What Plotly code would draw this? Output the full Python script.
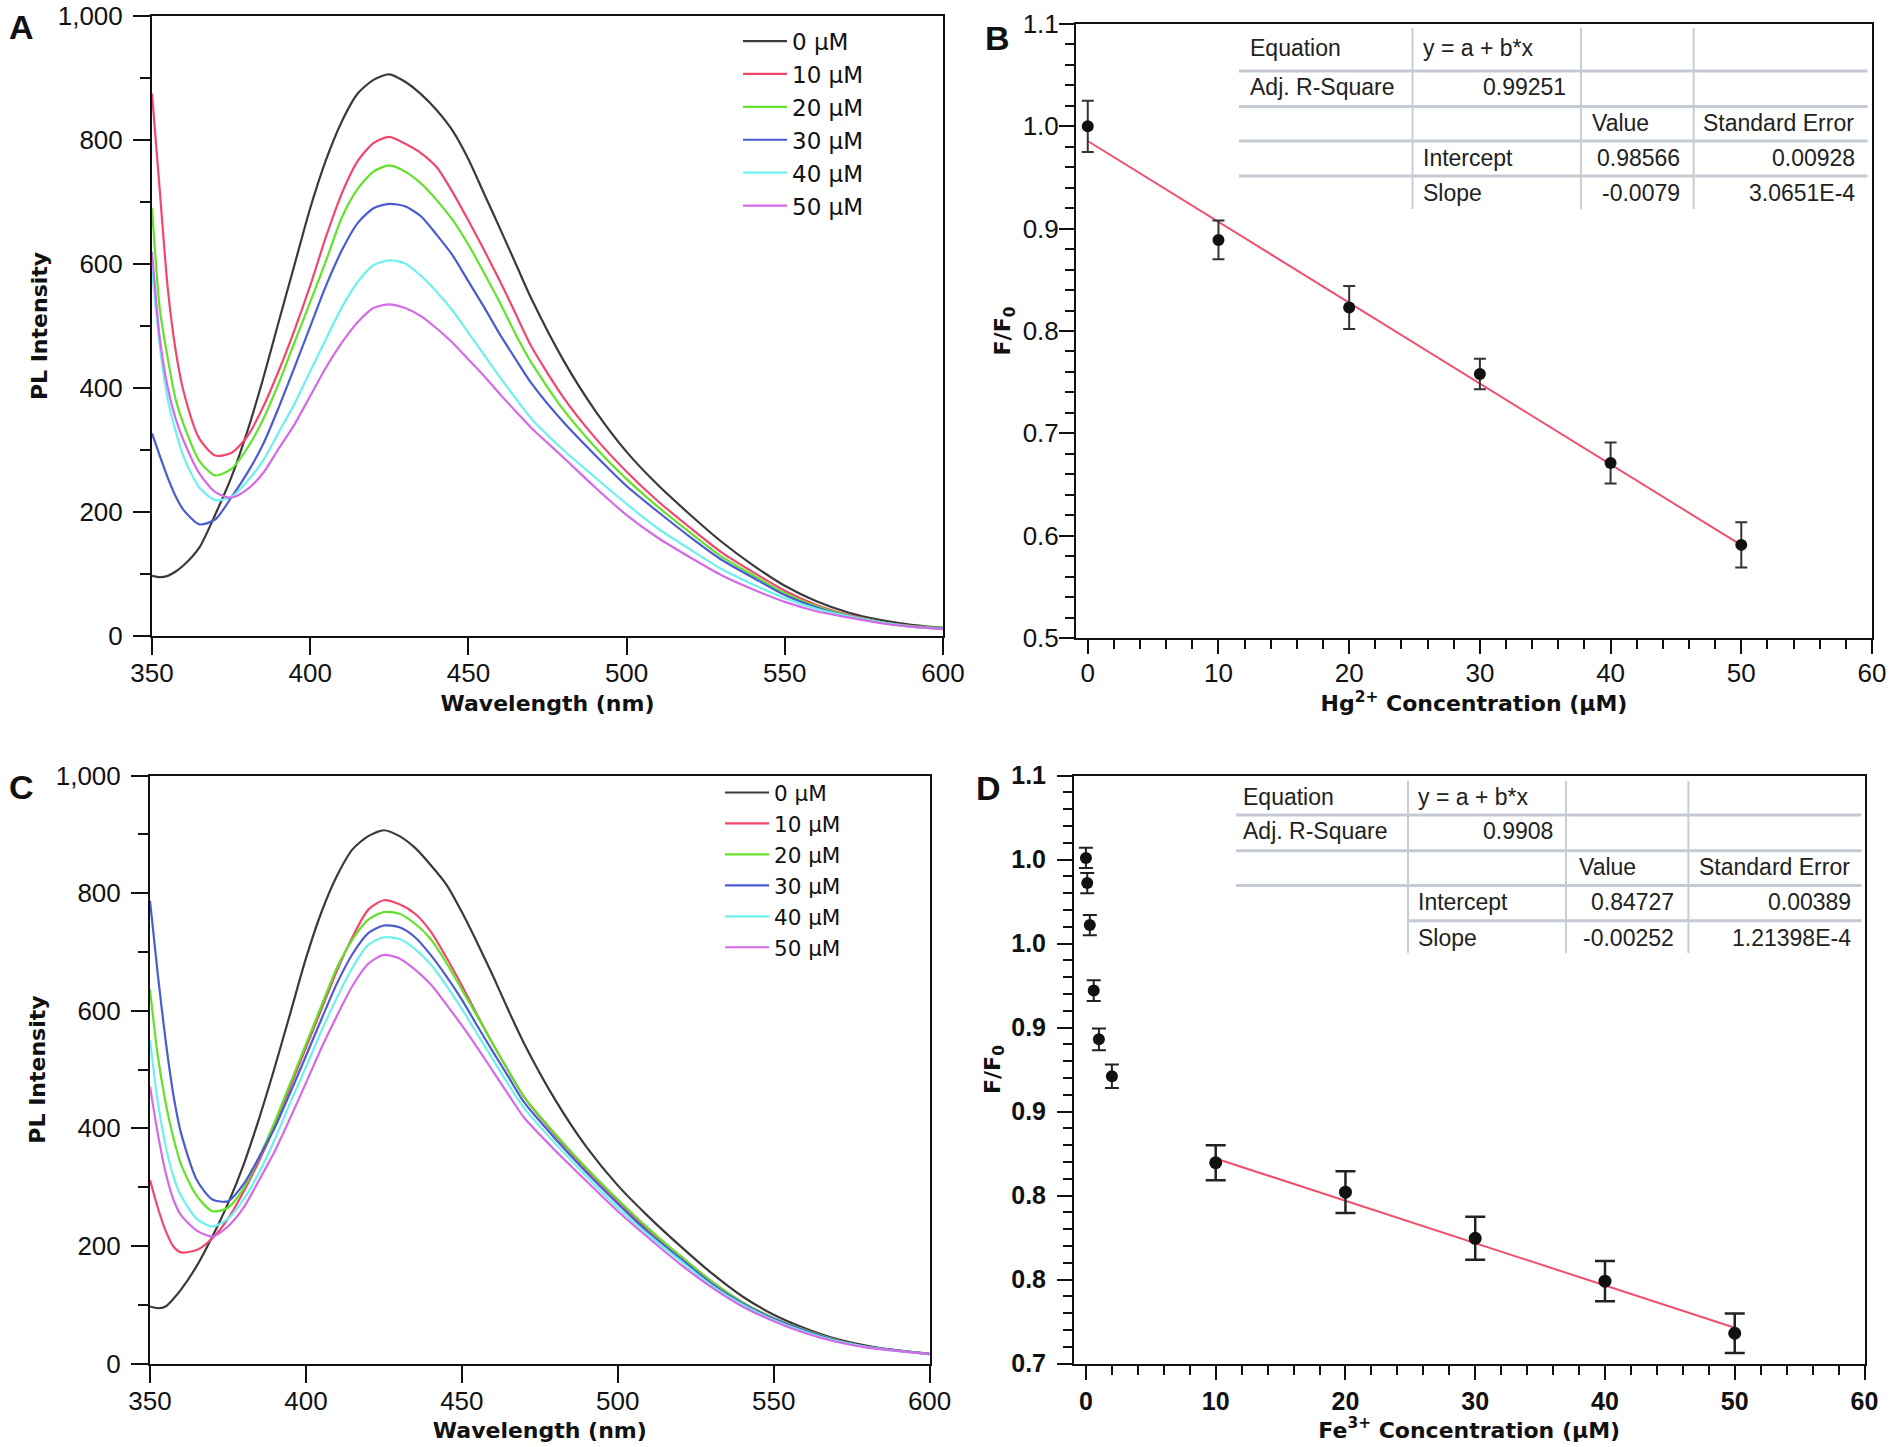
import plotly.graph_objects as go

W, H = 1890, 1447

# ---------------- data ----------------
wavelength = [350, 352.5, 355, 357.5, 360, 365, 370, 375, 380, 385, 390, 395, 400, 405,
              410, 415, 420, 425, 430, 435, 440, 445, 450, 455, 460, 465, 470, 480, 490,
              500, 510, 520, 530, 540, 550, 560, 570, 580, 590, 600]
conc_labels = ["0 µM", "10 µM", "20 µM", "30 µM", "40 µM", "50 µM"]

# Panel A (Hg2+)
a_0 = [97, 95, 97, 104, 114, 143, 196, 255, 328, 413, 506, 598, 690, 768, 830, 875, 897, 906,
       894, 874, 848, 815, 769, 713, 657, 600, 543, 445, 364, 297, 243, 196, 152, 114, 81, 56,
       38, 26, 18, 13]
a_10 = [875, 716, 560, 460, 394, 318, 291, 295, 321, 368, 427, 493, 565, 644, 714, 766, 795,
        805, 794, 779, 756, 716, 670, 622, 572, 519, 466, 385, 320, 265, 217, 175, 135, 103,
        73, 50, 34, 23, 16, 12]
a_20 = [690, 526, 447, 381, 341, 282, 259, 269, 302, 348, 407, 473, 539, 605, 675, 721, 749,
        759, 749, 730, 703, 671, 631, 585, 537, 486, 440, 365, 305, 253, 208, 167, 128, 98,
        69, 48, 33, 23, 16, 13]
a_30 = [327, 290, 255, 225, 203, 180, 188, 223, 262, 308, 368, 433, 499, 565, 622, 666, 690,
        697, 693, 677, 647, 614, 572, 530, 486, 446, 407, 345, 292, 242, 200, 160, 123, 94,
        66, 46, 32, 22, 15, 12]
a_40 = [590, 466, 381, 330, 289, 239, 219, 224, 249, 282, 328, 374, 427, 479, 530, 571, 598,
        606, 601, 581, 555, 525, 489, 453, 417, 383, 350, 300, 256, 213, 173, 140, 108, 83,
        61, 44, 32, 22, 15, 11]
a_50 = [620, 479, 400, 350, 315, 262, 232, 223, 236, 262, 302, 341, 387, 433, 473, 506, 529,
        535, 529, 516, 496, 473, 446, 419, 390, 362, 335, 288, 240, 195, 158, 127, 98, 75,
        55, 40, 30, 21, 15, 11]

# Panel C (Fe3+)
c_0 = [97, 94, 97, 110, 126, 166, 216, 272, 338, 417, 504, 596, 689, 768, 830, 875, 897, 907,
       897, 877, 848, 815, 768, 715, 659, 600, 544, 448, 368, 303, 249, 200, 154, 114, 83, 60,
       42, 30, 22, 17]
c_10 = [312, 265, 226, 199, 189, 193, 213, 246, 292, 345, 404, 471, 537, 603, 669, 726, 772,
        788, 781, 765, 735, 691, 643, 592, 543, 497, 453, 388, 330, 277, 226, 183, 140, 104,
        77, 57, 40, 28, 22, 16]
c_20 = [636, 523, 444, 384, 338, 285, 259, 265, 298, 351, 411, 477, 543, 609, 674, 722, 755,
        768, 765, 748, 722, 682, 636, 590, 543, 497, 453, 390, 332, 279, 229, 183, 140, 104,
        77, 57, 40, 28, 22, 16]
c_30 = [787, 662, 550, 457, 391, 312, 279, 276, 305, 351, 401, 461, 523, 586, 647, 697, 732,
        745, 742, 725, 695, 659, 619, 574, 530, 487, 444, 382, 325, 272, 222, 179, 136, 102,
        76, 56, 39, 28, 22, 16]
c_40 = [550, 444, 371, 318, 285, 246, 233, 246, 279, 325, 381, 444, 504, 566, 623, 674, 712,
        725, 722, 705, 679, 643, 603, 560, 517, 474, 434, 374, 318, 265, 218, 175, 133, 100,
        74, 54, 38, 28, 21, 16]
c_50 = [471, 391, 325, 279, 252, 226, 216, 233, 265, 312, 361, 418, 477, 537, 592, 643, 680,
        695, 689, 670, 645, 611, 575, 537, 497, 457, 418, 362, 310, 259, 213, 169, 130, 97,
        72, 52, 37, 27, 21, 16]

# Panel B
hg_conc = [0, 10, 20, 30, 40, 50]
hg_ratio = [1.000, 0.889, 0.823, 0.758, 0.671, 0.591]
hg_err = [0.025, 0.019, 0.021, 0.015, 0.020, 0.022]
hg_intercept = 0.98566
hg_slope = -0.0079
hg_fit_x = [0, 50]

# Panel D
fe_conc_low = [0, 0.1, 0.3, 0.6, 1, 2]
fe_ratio_low = [1.001, 0.986, 0.961, 0.922, 0.893, 0.871]
fe_err_low = [0.006, 0.006, 0.006, 0.0062, 0.0065, 0.007]
fe_conc_lin = [10, 20, 30, 40, 50]
fe_ratio_lin = [0.8195, 0.802, 0.7745, 0.749, 0.718]
fe_err_lin = [0.0104, 0.0124, 0.0128, 0.012, 0.0117]
fe_intercept = 0.84727
fe_slope = -0.00252
fe_fit_x = [10, 50]

d_tickvals = [0.70, 0.75, 0.80, 0.85, 0.90, 0.95, 1.00, 1.05]
d_ticktext = ["0.7", "0.8", "0.8", "0.9", "0.9", "1.0", "1.0", "1.1"]

table_b = [["Equation", "y = a + b*x", "", ""],
           ["Adj. R-Square", "0.99251", "", ""],
           ["", "", "Value", "Standard Error"],
           ["", "Intercept", "0.98566", "0.00928"],
           ["", "Slope", "-0.0079", "3.0651E-4"]]
table_d = [["Equation", "y = a + b*x", "", ""],
           ["Adj. R-Square", "0.9908", "", ""],
           ["", "", "Value", "Standard Error"],
           ["", "Intercept", "0.84727", "0.00389"],
           ["", "Slope", "-0.00252", "1.21398E-4"]]

colors = ["#3a3a3a", "#f2476b", "#62e22a", "#4b5bd0", "#6ff0f0", "#d46ae6"]

# ---------------- helpers (page pixel -> paper fraction) ----------------
def px(x):
    return x / W


def py(y):
    return 1 - y / H


TICKFONT = dict(family="Liberation Sans, Arial, sans-serif", size=26, color="#111")
TITLEFONT = dict(family="DejaVu Sans, sans-serif", size=22, color="#111", weight="bold")
TABLEFONT = dict(family="Liberation Sans, Arial, sans-serif", size=23, color="#222")

fig = go.Figure()

# spectra
for ys, name, col in zip([a_0, a_10, a_20, a_30, a_40, a_50], conc_labels, colors):
    fig.add_trace(go.Scatter(x=wavelength, y=ys, name=name, mode="lines",
                             line=dict(color=col, width=2.2, shape="spline", smoothing=0.7),
                             xaxis="x", yaxis="y", legend="legend"))
for ys, name, col in zip([c_0, c_10, c_20, c_30, c_40, c_50], conc_labels, colors):
    fig.add_trace(go.Scatter(x=wavelength, y=ys, name=name, mode="lines",
                             line=dict(color=col, width=2.2, shape="spline", smoothing=0.7),
                             xaxis="x3", yaxis="y3", legend="legend2"))

# panel B
hg_fit_y = [hg_intercept + hg_slope * x for x in hg_fit_x]
fig.add_trace(go.Scatter(x=hg_fit_x, y=hg_fit_y, mode="lines", showlegend=False,
                         line=dict(color="#f0506e", width=2), xaxis="x2", yaxis="y2"))
fig.add_trace(go.Scatter(x=hg_conc, y=hg_ratio, mode="markers", showlegend=False,
                         marker=dict(color="#111", size=12),
                         error_y=dict(type="data", array=hg_err, color="#333",
                                      thickness=2, width=6),
                         xaxis="x2", yaxis="y2"))

# panel D
fe_fit_y = [fe_intercept + fe_slope * x for x in fe_fit_x]
fig.add_trace(go.Scatter(x=fe_fit_x, y=fe_fit_y, mode="lines", showlegend=False,
                         line=dict(color="#f0506e", width=2), xaxis="x4", yaxis="y4"))
fig.add_trace(go.Scatter(x=fe_conc_low, y=fe_ratio_low, mode="markers", showlegend=False,
                         marker=dict(color="#111", size=12),
                         error_y=dict(type="data", array=fe_err_low, color="#222",
                                      thickness=2, width=7),
                         xaxis="x4", yaxis="y4"))
fig.add_trace(go.Scatter(x=fe_conc_lin, y=fe_ratio_lin, mode="markers", showlegend=False,
                         marker=dict(color="#111", size=13),
                         error_y=dict(type="data", array=fe_err_lin, color="#222",
                                      thickness=2.5, width=10),
                         xaxis="x4", yaxis="y4"))


def base_axis(**kw):
    d = dict(showline=True, linecolor="#111", linewidth=2, mirror=True,
             ticks="outside", ticklen=17, tickwidth=2, tickcolor="#111",
             showgrid=False, zeroline=False, tickfont=TICKFONT, automargin=False,
             ticklabeloverflow="allow")
    d.update(kw)
    return d


minor_y_spec = dict(ticks="outside", ticklen=10, tickwidth=1.5, tickcolor="#111", showgrid=False)
minor_x_spec = dict(dtick=2, tick0=0, ticks="outside", ticklen=9, tickwidth=1.5,
                    tickcolor="#111", showgrid=False)

fig.update_layout(
    template="plotly_white",
    width=W, height=H, margin=dict(l=0, r=0, t=0, b=0, autoexpand=False),
    paper_bgcolor="white", plot_bgcolor="white",
    xaxis=base_axis(domain=[px(152), px(943)], anchor="y", range=[350, 600], dtick=50, tick0=350,
                    ticklabelstandoff=-4,
                    title=dict(text="Wavelength (nm)", font=TITLEFONT, standoff=8)),
    yaxis=base_axis(domain=[py(636), py(16)], anchor="x", range=[0, 1000], dtick=200,
                    tickformat=",d", ticklabelstandoff=5,
                    minor=dict(dtick=100, **minor_y_spec),
                    title=dict(text="PL Intensity", font=TITLEFONT, standoff=4)),
    xaxis2=base_axis(domain=[px(1076), px(1872)], anchor="y2", range=[-0.9, 60], dtick=10, tick0=0,
                     ticklen=14, ticklabelstandoff=-3, minor=minor_x_spec,
                     title=dict(text="Hg<sup>2+</sup> Concentration (µM)", font=TITLEFONT, standoff=6)),
    yaxis2=base_axis(domain=[py(638), py(24)], anchor="x2", range=[0.5, 1.1], dtick=0.1, tick0=0.5,
                     tickformat=".1f", ticklen=15, ticklabelstandoff=-5,
                     minor=dict(dtick=0.02, tick0=0.5, ticks="outside", ticklen=9, tickwidth=1.5,
                                tickcolor="#111", showgrid=False),
                     title=dict(text="F/F<sub>0</sub>", font=TITLEFONT, standoff=6)),
    xaxis3=base_axis(domain=[px(150), px(929.6)], anchor="y3", range=[350, 600], dtick=50, tick0=350,
                     ticklabelstandoff=-4,
                     title=dict(text="Wavelength (nm)", font=TITLEFONT, standoff=8)),
    yaxis3=base_axis(domain=[py(1363.5), py(775.6)], anchor="x3", range=[0, 1000], dtick=200,
                     tickformat=",d", ticklabelstandoff=5,
                     minor=dict(dtick=100, **minor_y_spec),
                     title=dict(text="PL Intensity", font=TITLEFONT, standoff=4)),
    xaxis4=base_axis(domain=[px(1074), px(1864.5)], anchor="y4", range=[-0.92, 60], dtick=10, tick0=0,
                     ticklen=14, ticklabelstandoff=0,
                     tickfont=dict(TICKFONT, weight="bold", size=25), minor=minor_x_spec,
                     title=dict(text="Fe<sup>3+</sup> Concentration (µM)", font=TITLEFONT, standoff=6)),
    yaxis4=base_axis(domain=[py(1363.5), py(775.6)], anchor="x4", range=[0.7, 1.05],
                     tickmode="array", tickvals=d_tickvals, ticktext=d_ticktext,
                     ticklen=15, ticklabelstandoff=6,
                     tickfont=dict(TICKFONT, weight="bold", size=25),
                     minor=dict(dtick=0.01, tick0=0.7, ticks="outside", ticklen=9, tickwidth=1.5,
                                tickcolor="#111", showgrid=False),
                     title=dict(text="F/F<sub>0</sub>", font=TITLEFONT, standoff=5)),
    legend=dict(x=px(738), y=py(19.6), xanchor="left", yanchor="top", itemwidth=44,
                font=dict(family="DejaVu Sans, sans-serif", size=23, color="#111"),
                bgcolor="rgba(0,0,0,0)", borderwidth=0, tracegroupgap=0),
    legend2=dict(x=px(720), y=py(772), xanchor="left", yanchor="top", itemwidth=44,
                 font=dict(family="DejaVu Sans, sans-serif", size=21.5, color="#111"),
                 bgcolor="rgba(0,0,0,0)", borderwidth=0, tracegroupgap=0),
)

# panel letters
for letter, (lx, ly) in zip(["A", "B", "C", "D"], [(21, 27), (997, 38), (21, 787), (989, 788)]):
    fig.add_annotation(x=px(lx), y=py(ly), xref="paper", yref="paper", text=letter,
                       showarrow=False, xanchor="center", yanchor="middle",
                       font=dict(family="Liberation Sans, Arial, sans-serif", size=34,
                                 color="#111", weight="bold"))


def draw_table(rows, left, right, cols, top, bottom, hlines, last_line_start, text_y,
               text_x):
    # horizontal separators
    for i, yl in enumerate(hlines):
        x0 = last_line_start if i == len(hlines) - 1 else left
        fig.add_shape(type="line", xref="paper", yref="paper", x0=px(x0), x1=px(right),
                      y0=py(yl), y1=py(yl), line=dict(color="#c3cad4", width=3))
    # vertical separators
    for xc in cols:
        fig.add_shape(type="line", xref="paper", yref="paper", x0=px(xc), x1=px(xc),
                      y0=py(top), y1=py(bottom), line=dict(color="#c8cdd4", width=2))
    # text
    for r, row in enumerate(rows):
        for c, txt in enumerate(row):
            if not txt:
                continue
            xpos, anchor = text_x[r][c]
            fig.add_annotation(x=px(xpos), y=py(text_y[r]), xref="paper", yref="paper",
                               text=txt, showarrow=False, xanchor=anchor, yanchor="middle",
                               font=TABLEFONT)


# table B
bL, bC1, bC2, bC3, bR = 1239, 1412.5, 1581, 1693.7, 1867.5
tx_b = [[(1248, "left"), (1421, "left"), None, None],
        [(1248, "left"), (1568, "right"), None, None],
        [None, None, (1590, "left"), (1701, "left")],
        [None, (1421, "left"), (1682, "right"), (1857, "right")],
        [None, (1421, "left"), (1682, "right"), (1857, "right")]]
draw_table(table_b, bL, bR, [bC1, bC2, bC3], 28, 209, [71, 106.5, 141, 176], bL,
           [48, 87, 123, 157.5, 193], tx_b)

# table D
dL, dC1, dC2, dC3, dR = 1236, 1408, 1566, 1688.4, 1861.5
tx_d = [[(1241, "left"), (1415.5, "left"), None, None],
        [(1241, "left"), (1555, "right"), None, None],
        [None, None, (1577, "left"), (1697, "left")],
        [None, (1415.5, "left"), (1676, "right"), (1853, "right")],
        [None, (1415.5, "left"), (1676, "right"), (1853, "right")]]
draw_table(table_d, dL, dR, [dC1, dC2, dC3], 781, 953, [815, 850.7, 885.5, 920.7], dC1,
           [796.5, 831, 867.4, 902, 938], tx_d)

# remove the default page margin so the 1890x1447 figure fills the window exactly
fig.write_html("out.html", config={"displayModeBar": False},
               post_script="document.body.style.margin='0';document.body.style.overflow='hidden';")
